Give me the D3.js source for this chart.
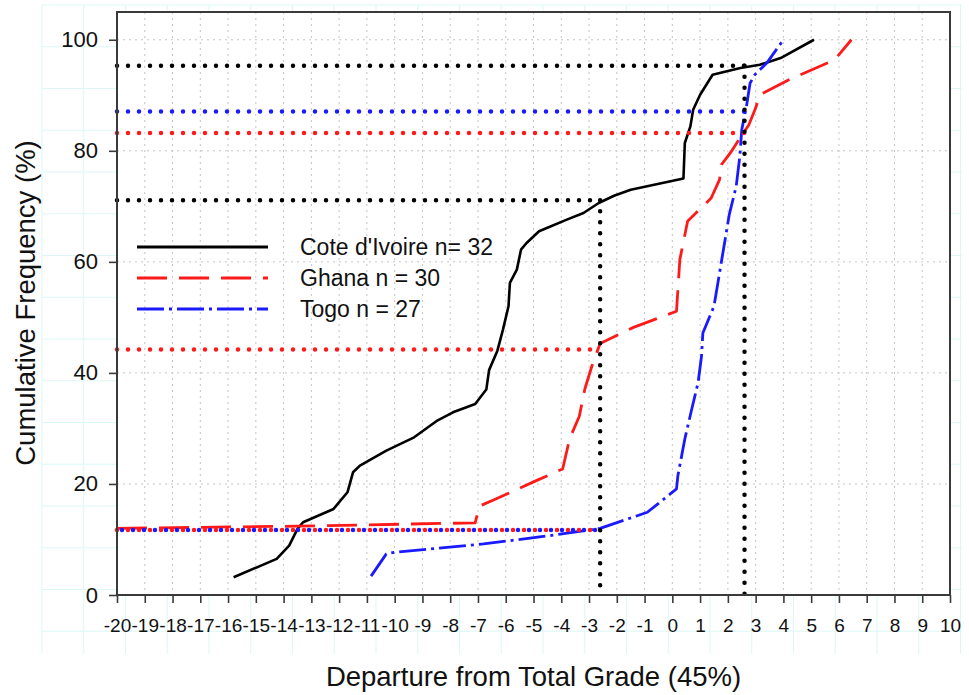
<!DOCTYPE html>
<html><head><meta charset="utf-8">
<script src="https://cdn.jsdelivr.net/npm/d3@7/dist/d3.min.js"></script>
<style>
body{margin:0;background:#fff}
svg{display:block}
text{font-family:"Liberation Sans",Arial,Helvetica,sans-serif;fill:#111}
</style>
</head><body>
<svg id="chart" width="969" height="695"></svg>
<script>
// ---------- data ----------
const xTickValues = [-20,-19,-18,-17,-16,-15,-14,-13,-12,-11,-10,-9,-8,-7,-6,-5,-4,-3,-2,-1,0,1,2,3,4,5,6,7,8,9,10];
const yTickValues = [0,20,40,60,80,100];
const seriesNames = ["Cote d'Ivoire n= 32", "Ghana n = 30", "Togo n = 27"];
const seriesColors = ["#000000", "#ff1a1a", "#1a1aff"];

const coteIvoire = [[-15.8,3.2],[-14.25,6.5],[-13.8,8.9],[-13.5,11.9],[-13.3,13.1],[-12.2,15.5],[-11.7,18.5],[-11.5,22.1],[-11.25,23.3],[-10.3,26.0],[-9.3,28.4],[-8.5,31.3],[-7.9,32.9],[-7.1,34.4],[-6.7,37.0],[-6.6,40.5],[-6.3,44.0],[-6.1,47.8],[-5.9,52.0],[-5.85,56.2],[-5.6,58.6],[-5.45,62.2],[-5.25,63.4],[-4.8,65.5],[-3.8,67.6],[-3.2,68.8],[-2.65,70.6],[-2.1,71.9],[-1.5,73.0],[0.4,75.0],[0.45,81.4],[0.65,84.4],[0.75,87.4],[1.0,90.1],[1.45,93.7],[2.45,94.9],[3.15,95.5],[3.9,96.7],[5.1,100]];
const ghana = [[-20,12.0],[-13.5,12.4],[-7.1,13.0],[-6.95,16.0],[-6.4,17.2],[-4.9,20.6],[-3.95,22.7],[-3.7,28.1],[-3.35,32.2],[-3.15,37.1],[-2.9,41.2],[-2.6,45.3],[-1.4,48.2],[0.15,51.1],[0.27,60.4],[0.55,67.3],[1.4,71.5],[1.7,74.8],[1.77,77.5],[2.13,79.9],[2.55,83.2],[2.75,84.6],[3.0,87.7],[3.15,90.1],[4.2,92.8],[5.85,96.4],[6.45,100]];
const togo = [[-10.85,3.4],[-10.3,7.4],[-10.0,7.7],[-6.8,9.2],[-4.4,10.7],[-2.6,12.0],[-0.9,14.9],[0.15,19.1],[0.2,21.5],[0.45,28.1],[0.7,33.5],[0.93,38.3],[1.05,43.0],[1.1,47.2],[1.5,52.0],[1.7,58.0],[1.9,64.0],[2.05,68.5],[2.3,73.6],[2.43,79.0],[2.5,83.8],[2.67,88.0],[2.8,92.2],[2.97,93.7],[3.4,95.8],[4.0,100]];

// reference (dotted) lines: horizontal [y, xEnd, color], vertical [x, yEnd, color]
const refHorizontal = [[95.3,2.6,"#000"],[87.1,2.6,"#1a1aff"],[83.2,2.6,"#ff1a1a"],[71.1,-2.6,"#000"],[44.2,-2.6,"#ff1a1a"],[11.7,-2.6,"#ff1a1a"],[11.7,-2.6,"#1a1aff"]];
const refVertical = [[-2.6,71.1,"#000"],[2.6,95.3,"#000"]];

// ---------- layout ----------
const svg = d3.select("#chart");
const mLeft = 117, mRight = 950, mTop = 12, mBottom = 595;

// faint graph-paper background
const bg = svg.append("g");
for (let gx = 42; gx <= 962; gx += 41.75) bg.append("line").attr("x1",gx).attr("x2",gx).attr("y1",5).attr("y2",654).attr("stroke","#dcf7f7").attr("stroke-width",1);
for (let gy = 5; gy <= 656; gy += 41.75) bg.append("line").attr("x1",42).attr("x2",962).attr("y1",gy).attr("y2",gy).attr("stroke","#dcf7f7").attr("stroke-width",1);

const x = d3.scaleLinear().domain([-20,10]).range([mLeft,mRight]);
const y = d3.scaleLinear().domain([0,105]).range([mBottom,mTop]);

svg.append("rect").attr("x",mLeft).attr("y",mTop).attr("width",mRight-mLeft).attr("height",mBottom-mTop).attr("fill","#fff");

// grid
const grid = svg.append("g").attr("stroke","#c4c4c4").attr("stroke-width",1).attr("stroke-dasharray","2,4");
xTickValues.filter(v => v > -20 && v < 10).forEach(v => grid.append("line").attr("x1",x(v)).attr("x2",x(v)).attr("y1",mTop).attr("y2",mBottom));
yTickValues.filter(v => v > 0).forEach(v => grid.append("line").attr("x1",mLeft).attr("x2",mRight).attr("y1",y(v)).attr("y2",y(v)));

// curves
const line = d3.line().x(d => x(d[0])).y(d => y(d[1]));
const curves = [
  {data: coteIvoire, color: seriesColors[0], dash: null, w: 2.6},
  {data: ghana, color: seriesColors[1], dash: "30,12", w: 2.8},
  {data: togo, color: seriesColors[2], dash: "27,5,3,5", w: 2.8}
];
curves.forEach(c => {
  svg.append("path").datum(c.data).attr("d", line).attr("fill","none")
    .attr("stroke", c.color).attr("stroke-width", c.w)
    .attr("stroke-dasharray", c.dash).attr("stroke-linejoin","round");
});

// dotted reference lines
const refG = svg.append("g").attr("fill","none").attr("stroke-linecap","round").attr("stroke-width",4.5).attr("stroke-dasharray","0,11");
refHorizontal.forEach((r,i) => refG.append("line").attr("x1",x(-20)+ (i===6?5:0)).attr("x2",x(r[1])).attr("y1",y(r[0])).attr("y2",y(r[0])).attr("stroke",r[2]));
refVertical.forEach(r => refG.append("line").attr("x1",x(r[0])).attr("x2",x(r[0])).attr("y1",y(r[1])).attr("y2",y(0)).attr("stroke",r[2]));

// frame
svg.append("rect").attr("x",mLeft).attr("y",mTop).attr("width",mRight-mLeft).attr("height",mBottom-mTop).attr("fill","none").attr("stroke","#3a3a3a").attr("stroke-width",2);

// axes
const xAxis = svg.append("g").attr("transform",`translate(0,${mBottom})`)
  .call(d3.axisBottom(x).tickValues(xTickValues).tickFormat(d => String(d)).tickSize(8).tickPadding(16));
xAxis.select(".domain").remove();
xAxis.selectAll(".tick line").attr("stroke","#3a3a3a").attr("stroke-width",1.6);
xAxis.selectAll(".tick text").attr("font-size",19).attr("fill","#111").style("font-family","'Liberation Sans',Arial,sans-serif");

const yAxis = svg.append("g").attr("transform",`translate(${mLeft},0)`)
  .call(d3.axisLeft(y).tickValues(yTickValues).tickSize(8).tickPadding(11));
yAxis.select(".domain").remove();
yAxis.selectAll(".tick line").attr("stroke","#3a3a3a").attr("stroke-width",1.6);
yAxis.selectAll(".tick text").attr("font-size",22).attr("fill","#111").style("font-family","'Liberation Sans',Arial,sans-serif");

// titles
svg.append("text").attr("x",(mLeft+mRight)/2).attr("y",686).attr("text-anchor","middle").attr("font-size",27.5).text("Departure from Total Grade (45%)");
svg.append("text").attr("transform",`translate(35,303) rotate(-90)`).attr("text-anchor","middle").attr("font-size",27.5).text("Cumulative Frequency (%)");

// legend
const legY = [247, 278, 309];
seriesNames.forEach((n,i) => {
  svg.append("line").attr("x1",137).attr("x2",268).attr("y1",legY[i]).attr("y2",legY[i])
    .attr("stroke",curves[i].color).attr("stroke-width",3).attr("stroke-dasharray",curves[i].dash);
  svg.append("text").attr("x",300).attr("y",legY[i]).attr("dy","0.35em").attr("font-size",23).text(n);
});
</script>
</body></html>
